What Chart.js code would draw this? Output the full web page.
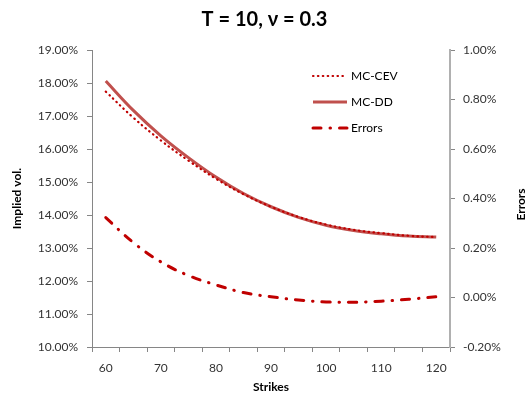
<!DOCTYPE html>
<html>
<head>
<meta charset="utf-8">
<script src="https://cdn.jsdelivr.net/npm/chart.js@4/dist/chart.umd.min.js"></script>
<style>
  html, body { margin: 0; padding: 0; background: #fff; }
  #wrap { width: 529px; height: 399px; }
</style>
</head>
<body>
<div id="wrap"><canvas id="myChart" width="529" height="399"></canvas></div>
<script>
// Data
const strikes = [60, 65, 70, 75, 80, 85, 90, 95, 100, 105, 110, 115, 120];
const mcCev = [17.74, 16.95, 16.26, 15.65, 15.10, 14.63, 14.25, 13.94, 13.71, 13.55, 13.45, 13.37, 13.33];
const mcDd = [18.06, 17.17, 16.40, 15.74, 15.15, 14.65, 14.25, 13.93, 13.69, 13.53, 13.43, 13.36, 13.33];
const errors = [0.323, 0.222, 0.144, 0.089, 0.051, 0.020, 0.003, -0.010, -0.018, -0.019, -0.015, -0.007, 0.003];

const titleText = "T = 10, ν = 0.3";
const yTitle = "Implied vol.";
const y1Title = "Errors";
const xTitle = "Strikes";

const FONT = "Lato, 'Open Sans', 'Liberation Sans', sans-serif";
const AXIS = "#868686";
const TXT = "#333333";

// percent ticks, no "-0.00%"
const pct = (v) => (Math.abs(v) < 1e-9 ? 0 : v).toFixed(2) + "%";

// legend + axis titles drawn like Excel places them
const excelExtras = {
    id: "excelExtras",
    afterDraw(chart) {
        const ctx = chart.ctx;
        const area = chart.chartArea;
        ctx.save();
        ctx.fillStyle = "#000";
        ctx.font = "bold 12px " + FONT;
        ctx.textAlign = "center";
        ctx.textBaseline = "middle";
        // x title
        ctx.fillText(xTitle, (area.left + area.right) / 2, 387);
        // left title
        ctx.save();
        ctx.translate(17, (area.top + area.bottom) / 2);
        ctx.rotate(-Math.PI / 2);
        ctx.fillText(yTitle, 0, 0);
        ctx.restore();
        // right title
        ctx.save();
        ctx.translate(521, (area.top + area.bottom) / 2 + 6);
        ctx.rotate(-Math.PI / 2);
        ctx.fillText(y1Title, 0, 0);
        ctx.restore();

        // legend
        ctx.font = "12px " + FONT;
        ctx.textAlign = "left";
        chart.data.datasets.forEach((ds, i) => {
            const y = 76 + i * 26;
            ctx.save();
            ctx.strokeStyle = ds.borderColor;
            ctx.lineWidth = ds.borderWidth;
            ctx.lineCap = ds.borderCapStyle || "butt";
            ctx.setLineDash(ds.borderDash || []);
            ctx.beginPath();
            ctx.moveTo(313, y);
            ctx.lineTo(347, y);
            ctx.stroke();
            ctx.restore();
            ctx.fillStyle = "#000";
            ctx.fillText(ds.label, 351, y);
        });
        ctx.restore();
    }
};

const ctx = document.getElementById("myChart").getContext("2d");

new Chart(ctx, {
    type: "line",
    data: {
        labels: strikes,
        datasets: [
            {
                label: "MC-CEV",
                data: mcCev,
                yAxisID: "y",
                borderColor: "#C00000",
                borderWidth: 2.2,
                borderDash: [0.5, 4.4],
                borderCapStyle: "round",
                pointRadius: 0,
                tension: 0.4,
                fill: false
            },
            {
                label: "MC-DD",
                data: mcDd,
                yAxisID: "y",
                borderColor: "#C0504D",
                borderWidth: 3,
                pointRadius: 0,
                tension: 0.4,
                fill: false
            },
            {
                label: "Errors",
                data: errors,
                yAxisID: "y1",
                borderColor: "#C00000",
                borderWidth: 3,
                borderDash: [8, 9, 0.5, 9],
                borderCapStyle: "round",
                pointRadius: 0,
                tension: 0.4,
                fill: false
            }
        ]
    },
    options: {
        responsive: false,
        animation: false,
        layout: { padding: { left: 0, right: 0, top: 0, bottom: 0 } },
        plugins: {
            legend: { display: false },
            tooltip: { enabled: false },
            title: {
                display: true,
                text: titleText,
                color: "#000",
                font: { family: FONT, size: 20, weight: "bold" },
                padding: { top: 8, bottom: 18 }
            }
        },
        scales: {
            x: {
                type: "category",
                offset: true,
                grid: { display: true, offset: true, drawOnChartArea: false, drawTicks: true, tickLength: 5, color: AXIS },
                border: { display: true, color: AXIS, width: 1 },
                ticks: {
                    autoSkip: false,
                    maxRotation: 0,
                    padding: 9,
                    color: TXT,
                    font: { family: FONT, size: 12 },
                    callback: function(value, index) {
                        return index % 2 === 0 ? this.getLabelForValue(value) : "";
                    }
                },
                afterFit: (s) => { s.height = 52; }
            },
            y: {
                position: "left",
                min: 10,
                max: 19,
                grid: { drawOnChartArea: false, drawTicks: true, tickLength: 5, color: AXIS },
                border: { display: true, color: AXIS, width: 1 },
                ticks: {
                    stepSize: 1,
                    padding: 9,
                    color: TXT,
                    font: { family: FONT, size: 12 },
                    callback: pct
                },
                afterFit: (s) => { s.width = 92; }
            },
            y1: {
                position: "right",
                min: -0.2,
                max: 1.0,
                grid: { drawOnChartArea: false, drawTicks: true, tickLength: 5, color: AXIS },
                border: { display: true, color: "#B0B0B0", width: 2 },
                ticks: {
                    stepSize: 0.2,
                    padding: 8,
                    color: TXT,
                    font: { family: FONT, size: 12 },
                    callback: pct
                },
                afterFit: (s) => { s.width = 79; }
            }
        }
    },
    plugins: [excelExtras]
});
</script>
</body>
</html>
